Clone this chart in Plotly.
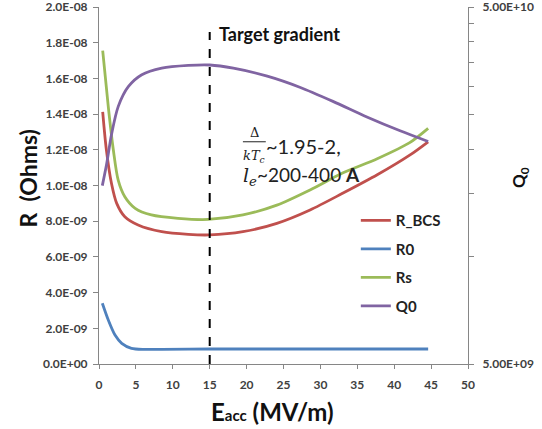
import plotly.graph_objects as go

# ---- data ----
E_bcs = [0.5, 1.0, 1.7, 2.4, 3.5, 5.3, 8.5, 12.1, 15, 19.5, 24.1, 28.6, 33, 37.7, 42.1, 44.6]
R_bcs = [14.13, 12.0, 10.1, 9.0, 8.25, 7.79, 7.41, 7.26, 7.23, 7.41, 7.88, 8.63, 9.56, 10.6, 11.7, 12.45]

E_r0 = [0.45, 1.26, 2.17, 3.08, 4.4, 6.2, 8.5, 15, 25, 35, 44.6]
R_0 = [3.4, 2.46, 1.62, 1.16, 0.88, 0.82, 0.82, 0.84, 0.84, 0.84, 0.84]

E_rs = [0.5, 1.26, 1.94, 2.6, 3.5, 4.9, 7.1, 10.7, 14.8, 19.5, 24.1, 28.6, 33, 37.7, 42.1, 44.6]
R_s = [17.55, 14.4, 12.0, 10.3, 9.37, 8.72, 8.35, 8.16, 8.1, 8.35, 8.9, 9.75, 10.7, 11.5, 12.4, 13.2]

E_q0 = [0.45, 1.04, 1.72, 2.6, 3.97, 5.8, 8.5, 12.1, 15, 18.2, 22.8, 27.2, 31.7, 36.3, 40.8, 44.6]
Q_0 = [1.58, 1.82, 2.21, 2.63, 2.99, 3.23, 3.37, 3.43, 3.44, 3.37, 3.2, 2.98, 2.72, 2.46, 2.25, 2.1]

scale_R = 1e-9
scale_Q = 1e10

left_tickvals = [0, 2e-9, 4e-9, 6e-9, 8e-9, 1e-8, 1.2e-8, 1.4e-8, 1.6e-8, 1.8e-8, 2e-8]
left_ticktext = ["0.0E+00", "2.0E-09", "4.0E-09", "6.0E-09", "8.0E-09", "1.0E-08",
                 "1.2E-08", "1.4E-08", "1.6E-08", "1.8E-08", "2.0E-08"]
right_tickvals = [5e9, 1e10, 1.5e10, 2e10, 2.5e10, 3e10, 3.5e10, 4e10, 4.5e10, 5e10]
right_ticktext = ["5.00E+09", "", "", "", "", "", "", "", "", "5.00E+10"]
x_tickvals = [0, 5, 10, 15, 20, 25, 30, 35, 40, 45, 50]

target_E = 15

RED = "#C0504D"
BLUE = "#4F81BD"
GREEN = "#9BBB59"
PURPLE = "#8064A2"
TXT = "#404040"
AX = "#868686"
FONT = "Lato"

fig = go.Figure()
lw = 2.8
series = [
    (E_bcs, R_bcs, scale_R, "R_BCS", RED, "y"),
    (E_r0, R_0, scale_R, "R0", BLUE, "y"),
    (E_rs, R_s, scale_R, "Rs", GREEN, "y"),
    (E_q0, Q_0, scale_Q, "Q0", PURPLE, "y2"),
]
for xs, ys, sc, name, col, ax in series:
    fig.add_trace(go.Scatter(x=xs, y=[v * sc for v in ys], name=name, mode="lines", yaxis=ax,
                             legendgroup=name,
                             line=dict(color=col, width=lw, shape="spline", smoothing=0.8)))

fig.add_shape(type="line", xref="x", yref="y", x0=target_E, x1=target_E, y0=0, y1=18.6e-9,
              line=dict(color="black", width=2, dash="dash"))
# fraction bar of Delta / kTc
fig.add_shape(type="line", xref="x", yref="y", x0=19.5, x1=22.6, y0=12.45e-9, y1=12.45e-9,
              line=dict(color="#222222", width=1))

serif = "font-family:'DejaVu Serif'"
fig.add_annotation(x=21.05, y=12.95e-9, xref="x", yref="y", text="Δ", showarrow=False,
                   font=dict(family="DejaVu Serif", size=13, color="#222222"))
fig.add_annotation(x=21.05, y=11.65e-9, xref="x", yref="y",
                   text="<i>kT<sub>c</sub></i>", showarrow=False,
                   font=dict(family="DejaVu Serif", size=13, color="#222222"))
fig.add_annotation(x=22.3, y=12.2e-9, xref="x", yref="y", xanchor="left",
                   text="~1.95-2,", showarrow=False,
                   font=dict(family=FONT, size=20, color="#222222"))
fig.add_annotation(x=19.3, y=10.55e-9, xref="x", yref="y", xanchor="left",
                   text=f"<span style=\"{serif}\"><i>l<sub>e</sub></i></span>~200-400 <b>A</b>",
                   showarrow=False, font=dict(family=FONT, size=19, color="#222222"))
fig.add_annotation(x=16.0, y=18.5e-9, xref="x", yref="y", xanchor="left",
                   text="<b>Target gradient</b>", showarrow=False,
                   font=dict(family=FONT, size=18, color="#111111"))

# axis titles placed as annotations
fig.add_annotation(x=0.469, y=-0.134, xref="paper", yref="paper", showarrow=False,
                   xanchor="center", yanchor="middle",
                   text="<b>E<span style=\"font-size:15px\">acc</span> (MV/m)</b>",
                   font=dict(family=FONT, size=24, color="#111111"))
fig.add_annotation(x=-0.192, y=0.52, xref="paper", yref="paper", showarrow=False, textangle=-90,
                   xanchor="center", yanchor="middle",
                   text="<b>R  (Ohms)</b>", font=dict(family=FONT, size=23, color="#111111"))
fig.add_annotation(x=1.141, y=0.521, xref="paper", yref="paper", showarrow=False, textangle=-90,
                   xanchor="center", yanchor="middle",
                   text="<b>Q<sub>0</sub></b>", font=dict(family=FONT, size=17, color="#111111"))

tickf = dict(family=FONT, size=12, color=TXT, weight="bold")
fig.update_layout(
    width=542, height=429,
    margin=dict(l=99, r=74, t=7, b=65),
    paper_bgcolor="white", plot_bgcolor="white",
    font=dict(family=FONT, color=TXT),
    showlegend=True,
    legend=dict(x=0.696, y=0.448, xanchor="left", yanchor="top", bgcolor="rgba(0,0,0,0)",
                font=dict(family=FONT, size=15, color="#222222", weight="bold"), tracegroupgap=6),
    xaxis=dict(range=[0, 50], tickvals=x_tickvals, showline=True, linecolor=AX, linewidth=1,
               ticks="outside", ticklen=4, tickcolor=AX, showgrid=False, zeroline=False,
               tickfont=dict(family=FONT, size=12, color=TXT, weight="bold"), automargin=False,
               ticklabeloverflow="allow", ticklabelstandoff=6),
    yaxis=dict(range=[0, 2e-8], tickvals=left_tickvals, ticktext=left_ticktext,
               showline=True, linecolor=AX, linewidth=1, ticks="outside", ticklen=5,
               tickcolor=AX, showgrid=False, zeroline=False, automargin=False,
               tickfont=tickf, ticklabeloverflow="allow", ticklabelstandoff=3),
    yaxis2=dict(type="log", overlaying="y", side="right", range=[9.69897, 10.69897],
                tickvals=right_tickvals, ticktext=right_ticktext, showline=True, linecolor=AX,
                linewidth=1, ticks="outside", ticklen=5, tickcolor=AX, showgrid=False,
                zeroline=False, automargin=False, tickfont=tickf, ticklabeloverflow="allow",
                ticklabelstandoff=6),
)

fig.write_html("out.html", config={"displayModeBar": False},
               post_script="document.body.style.margin='0';")
